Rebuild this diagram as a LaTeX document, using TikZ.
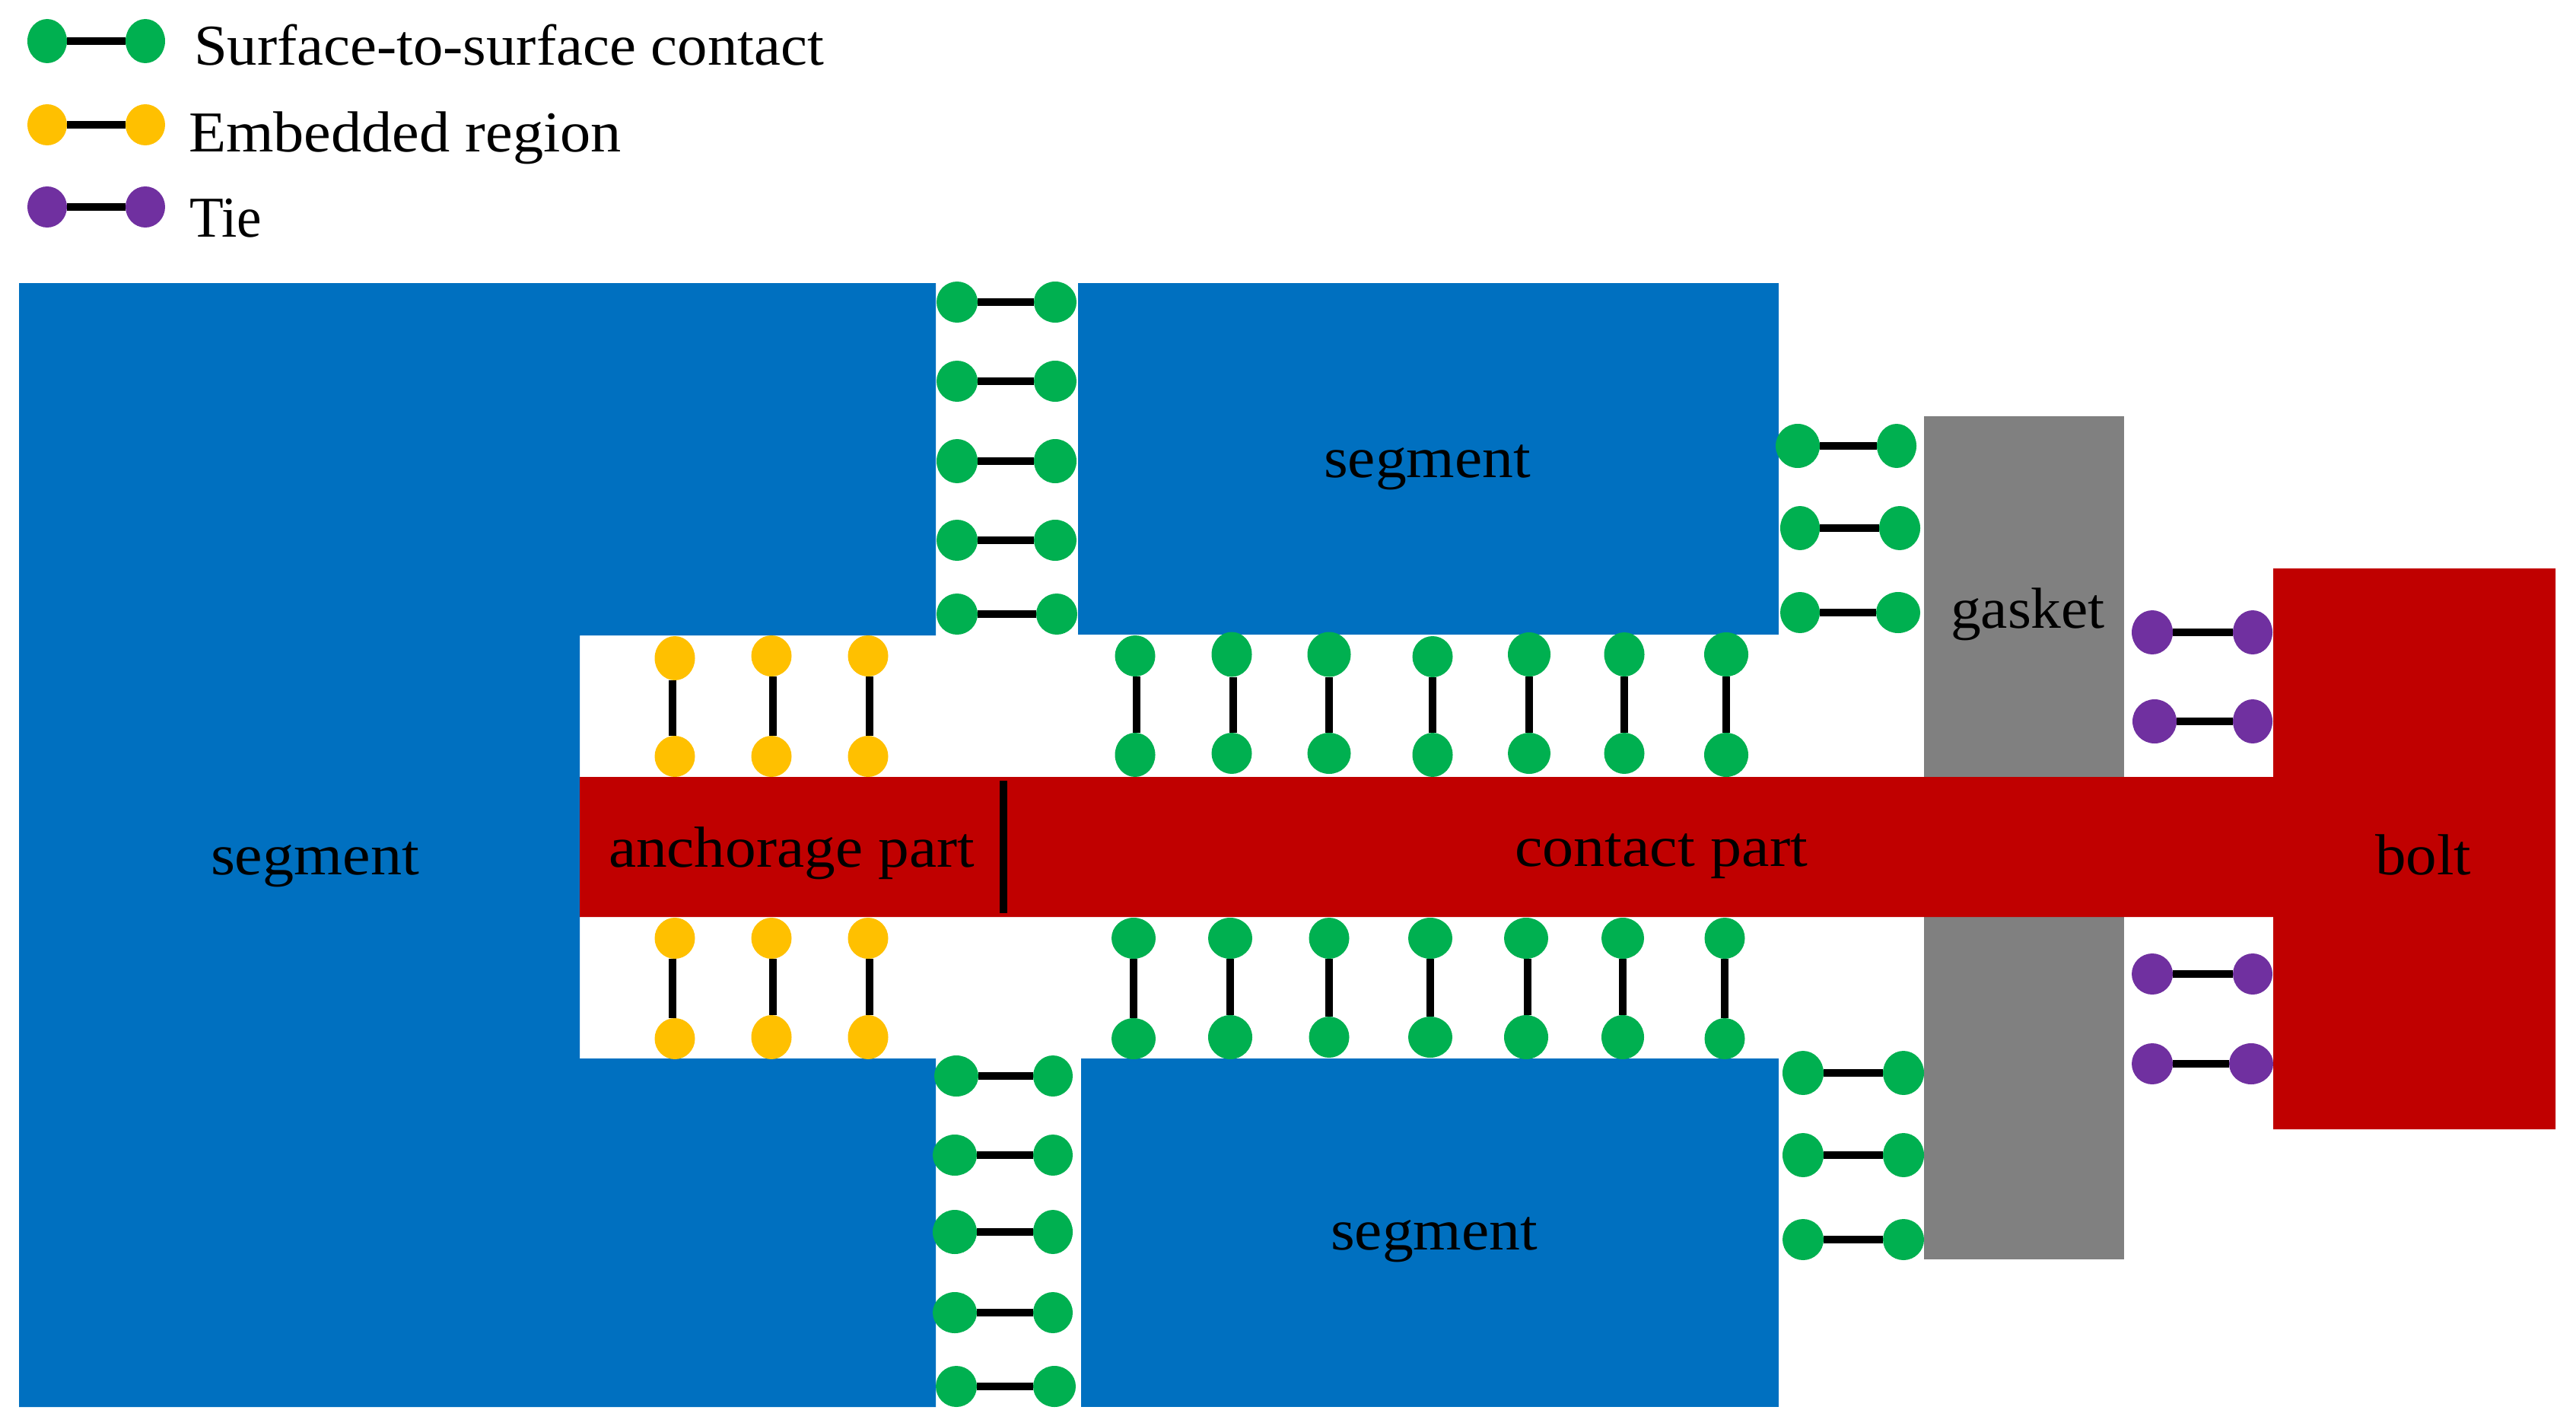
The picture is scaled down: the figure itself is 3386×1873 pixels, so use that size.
\documentclass[tikz,border=0pt]{standalone}
\usepackage{fontspec}
\usepackage{graphicx}
\setmainfont{Liberation Serif}
\definecolor{segblue}{HTML}{0070C0}
\definecolor{boltred}{HTML}{C00000}
\definecolor{gasketgray}{HTML}{808080}
\definecolor{contactgreen}{HTML}{00B050}
\definecolor{embedorange}{HTML}{FFC000}
\definecolor{tiepurple}{HTML}{7030A0}
\tikzset{
  dot/.style={ellipse,inner sep=0pt,outer sep=0pt,draw=none},
  link/.style={draw=black,line width=4.8pt},
  lbl/.style={inner sep=0pt,outer sep=0pt,text=black,font=\fontsize{38}{42}\selectfont},
}
\usetikzlibrary{shapes.geometric}
% id, colour, y, xL, rxL, xR, rxR, ryL, ryR
\newcommand{\hlink}[9]{%
  \node[dot,fill=#2,minimum width=#5pt,minimum height=#8pt] (#1a) at (#4,#3) {};
  \node[dot,fill=#2,minimum width=#7pt,minimum height=#9pt] (#1b) at (#6,#3) {};
  \draw[link] (#1a.east) -- (#1b.west);
}
% id, colour, x, yT, ryT, yB, ryB, rx, line offset
\newcommand{\vlink}[9]{%
  \node[dot,fill=#2,minimum width=#8pt,minimum height=#5pt] (#1a) at (#3,#4) {};
  \node[dot,fill=#2,minimum width=#8pt,minimum height=#7pt] (#1b) at (#3,#6) {};
  \draw[link] ([xshift=#9pt]#1a.south) -- ([xshift=#9pt]#1b.north);
}
\newlength{\fitlen}
\newcommand{\fitw}[2]{\setlength{\fitlen}{#1pt}\setlength{\fitlen}{0.5\fitlen}\resizebox{\fitlen}{\height}{#2}}
\begin{document}
\begin{tikzpicture}[x=0.5pt,y=-0.5pt]
\useasboundingbox (0,0) rectangle (3386,1873);
% blue segments
\fill[segblue] (25,372) -- (1230,372) -- (1230,835) -- (762,835) -- (762,1391) -- (1230,1391) -- (1230,1849) -- (25,1849) -- cycle;
\fill[segblue] (1417,372) rectangle (2338,834);
\fill[segblue] (1421,1391) rectangle (2338,1849);
% gasket
\fill[gasketgray] (2529,547) rectangle (2792,1655);
% bolt
\fill[boltred] (762,1021) -- (2988,1021) -- (2988,747) -- (3359,747) -- (3359,1484) -- (2988,1484) -- (2988,1205) -- (762,1205) -- cycle;
% divider
\coordinate (divtop) at (1319,1026);
\coordinate (divbot) at (1319,1200);
\draw[link] (divtop) -- (divbot);
% legend
\hlink{lg}{contactgreen}{54}{62}{26}{191}{26}{29}{29}
\hlink{lo}{embedorange}{164}{62}{26}{191}{26}{27}{27}
\hlink{lp}{tiepurple}{272}{62}{26}{191}{26}{27}{27}
\node[lbl,anchor=base west] (tsurf) at (255,86) {\fitw{828}{Surface-to-surface contact}};
\node[lbl,anchor=base west] (temb) at (248,199) {\fitw{569}{Embedded region}};
\node[lbl,anchor=base west] (ttie) at (249,311) {\fitw{95}{Tie}};
% top horizontal stack
\hlink{ta}{contactgreen}{397}{1258}{27}{1387}{28}{27}{27}
\hlink{tb}{contactgreen}{501}{1258}{27}{1387}{28}{27}{27}
\hlink{tc}{contactgreen}{606}{1258}{27}{1387}{28}{29}{29}
\hlink{td}{contactgreen}{710}{1258}{27}{1387}{28}{27}{27}
\hlink{te}{contactgreen}{807}{1258}{27}{1389}{27}{27}{27}
% bottom horizontal stack
\hlink{ba}{contactgreen}{1414}{1257}{29}{1384}{26}{27}{27}
\hlink{bb}{contactgreen}{1518}{1255}{29}{1384}{26}{27}{27}
\hlink{bc}{contactgreen}{1619}{1255}{29}{1384}{26}{29}{29}
\hlink{bd}{contactgreen}{1725}{1255}{29}{1384}{26}{27}{27}
\hlink{be}{contactgreen}{1822}{1257}{27}{1386}{28}{27}{27}
% orange
\vlink{oa}{embedorange}{887}{865}{29}{994}{27}{26.5}{-1.5}
\vlink{ob}{embedorange}{1014}{862}{27}{994}{27}{26.5}{1}
\vlink{oc}{embedorange}{1141}{862}{27}{994}{27}{26.5}{1}
\vlink{od}{embedorange}{887}{1233}{27}{1365}{27}{26.5}{-1.5}
\vlink{oe}{embedorange}{1014}{1233}{27}{1363}{29}{26.5}{1}
\vlink{of}{embedorange}{1141}{1233}{27}{1363}{29}{26.5}{1}
% green vertical, top
\vlink{ga}{contactgreen}{1492}{862}{27}{992}{29}{26.5}{1}
\vlink{gb}{contactgreen}{1619}{860}{29.5}{990}{27}{26.5}{1}
\vlink{gc}{contactgreen}{1747}{860}{29.5}{990}{27}{28.5}{0}
\vlink{gd}{contactgreen}{1883}{863}{27}{992}{29}{26.5}{0}
\vlink{ge}{contactgreen}{2010}{860}{29}{990}{27}{28}{0}
\vlink{gf}{contactgreen}{2135}{860}{29}{990}{27}{26.5}{0}
\vlink{gg}{contactgreen}{2269}{860}{29}{992}{29}{29}{0}
% green vertical, bottom
\vlink{ha}{contactgreen}{1490}{1233}{27}{1365}{27}{29}{0}
\vlink{hb}{contactgreen}{1617}{1233}{27}{1363}{29}{29}{0}
\vlink{hc}{contactgreen}{1747}{1233}{27}{1363}{27}{26.5}{0}
\vlink{hd}{contactgreen}{1880}{1233}{27}{1363}{27}{29}{0}
\vlink{he}{contactgreen}{2006}{1233}{27}{1363}{29}{29}{1}
\vlink{hf}{contactgreen}{2133}{1233}{27}{1363}{29}{28}{0}
\vlink{hg}{contactgreen}{2267}{1233}{27}{1365}{27}{26.5}{0}
% right green, upper
\hlink{ra}{contactgreen}{586}{2363}{29}{2493}{26}{29}{29}
\hlink{rb}{contactgreen}{694}{2366}{26}{2497}{27}{29}{29}
\hlink{rc}{contactgreen}{805}{2366}{26}{2495}{29}{27}{27}
% right green, lower
\hlink{sa}{contactgreen}{1410}{2370}{27}{2502}{27}{29}{29}
\hlink{sb}{contactgreen}{1518}{2370}{27}{2502}{27}{29}{29}
\hlink{sc}{contactgreen}{1629}{2370}{27}{2502}{27}{27}{27}
% purple
\hlink{pa}{tiepurple}{831}{2829}{27}{2961}{26}{29}{29}
\hlink{pb}{tiepurple}{948}{2832}{29}{2961}{26}{29}{29}
\hlink{pc}{tiepurple}{1280}{2829}{27}{2961}{26}{27}{27}
\hlink{pd}{tiepurple}{1398}{2829}{27}{2959}{29}{27}{27}
% labels
\node[lbl,anchor=base west] (segl) at (277,1149) {\fitw{274}{segment}};
\node[lbl,anchor=base west] (segu) at (1740,627) {\fitw{272}{segment}};
\node[lbl,anchor=base west] (segd) at (1749,1642) {\fitw{272}{segment}};
\node[lbl,anchor=base west] (anch) at (800,1139) {\fitw{481}{anchorage part}};
\node[lbl,anchor=base west] (cont) at (1991,1138) {\fitw{385}{contact part}};
\node[lbl,anchor=base west] (gask) at (2564,825) {\fitw{203}{gasket}};
\node[lbl,anchor=base west] (bolt) at (3122,1149) {\fitw{126}{bolt}};
\end{tikzpicture}
\end{document}
